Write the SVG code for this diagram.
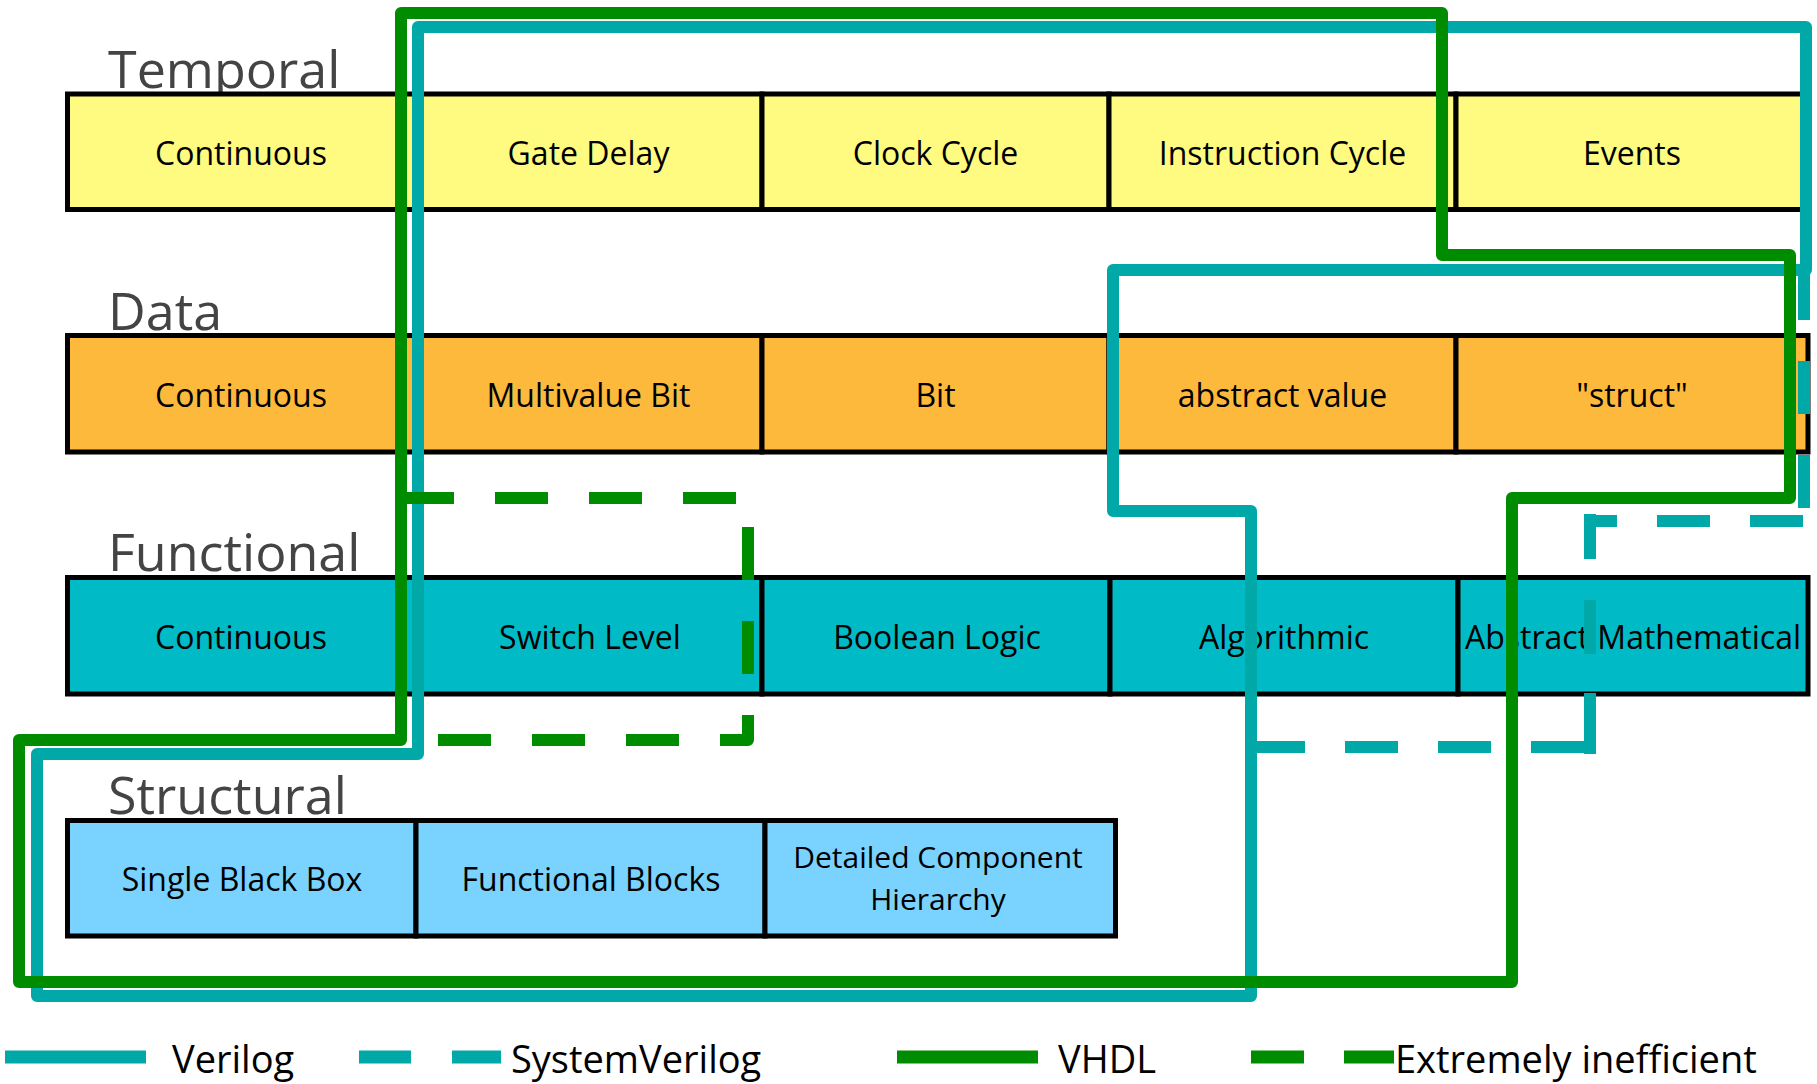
<svg xmlns="http://www.w3.org/2000/svg" width="1817" height="1084" viewBox="0 0 1817 1084">
<style>
.cell{stroke:#000;stroke-width:5}
.t{fill:#FFFA80}.d{fill:#FDB93C}.f{fill:#00BAC6}.s{fill:#7AD2FF}
.ct{font-family:"Open Sans","DejaVu Sans",sans-serif;font-size:32px;text-anchor:middle;fill:#000}
.ct2{font-size:30px}
.lab{font-family:"Open Sans","DejaVu Sans",sans-serif;font-size:52px;fill:#444}
.lg{font-family:"Open Sans","DejaVu Sans",sans-serif;font-size:38px;fill:#000}
.vl{stroke:#00A8A8;stroke-width:12;fill:none;stroke-linejoin:round}
.vh{stroke:#008C00;stroke-width:12;fill:none;stroke-linejoin:round}
.lgl{stroke-width:13;fill:none}
</style>
<rect width="1817" height="1084" fill="#fff"/>
<g id="labels">
<text class="lab" x="108" y="88">Temporal</text>
<text class="lab" x="108" y="330">Data</text>
<text class="lab" x="108" y="571">Functional</text>
<text class="lab" x="108" y="814">Structural</text>
</g>
<g id="temporal-continuous"><rect class="cell t" x="67.5" y="94" width="347.5" height="115.5"/><text class="ct" x="241" y="165">Continuous</text></g>
<g id="temporal-gate-delay"><rect class="cell t" x="415" y="94" width="347" height="115.5"/><text class="ct" x="588.5" y="165">Gate Delay</text></g>
<g id="temporal-clock-cycle"><rect class="cell t" x="762" y="94" width="347" height="115.5"/><text class="ct" x="935.5" y="165">Clock Cycle</text></g>
<g id="temporal-instruction-cycle"><rect class="cell t" x="1109" y="94" width="347" height="115.5"/><text class="ct" x="1282.5" y="165">Instruction Cycle</text></g>
<g id="temporal-events"><rect class="cell t" x="1456" y="94" width="352" height="115.5"/><text class="ct" x="1632" y="165">Events</text></g>

<g id="data-continuous"><rect class="cell d" x="67.5" y="335.5" width="347.5" height="116.5"/><text class="ct" x="241" y="407">Continuous</text></g>
<g id="data-multivalue-bit"><rect class="cell d" x="415" y="335.5" width="347" height="116.5"/><text class="ct" x="588.5" y="407">Multivalue Bit</text></g>
<g id="data-bit"><rect class="cell d" x="762" y="335.5" width="347" height="116.5"/><text class="ct" x="935.5" y="407">Bit</text></g>
<g id="data-abstract-value"><rect class="cell d" x="1109" y="335.5" width="347" height="116.5"/><text class="ct" x="1282.5" y="407">abstract value</text></g>
<g id="data-struct"><rect class="cell d" x="1456" y="335.5" width="352" height="116.5"/><text class="ct" x="1632" y="407">"struct"</text></g>

<g id="functional-continuous"><rect class="cell f" x="67.5" y="577.5" width="347.5" height="116.5"/><text class="ct" x="241" y="649">Continuous</text></g>
<g id="functional-switch-level"><rect class="cell f" x="415" y="577.5" width="347" height="116.5"/><text class="ct" x="590" y="649">Switch Level</text></g>
<g id="functional-boolean-logic"><rect class="cell f" x="762" y="577.5" width="348" height="116.5"/><text class="ct" x="937" y="649">Boolean Logic</text></g>
<g id="functional-algorithmic"><rect class="cell f" x="1110" y="577.5" width="348" height="116.5"/><text class="ct" x="1284" y="649">Algorithmic</text></g>
<g id="functional-abstract-mathematical"><rect class="cell f" x="1458" y="577.5" width="350" height="116.5"/><text class="ct" x="1633" y="649">Abstract Mathematical</text></g>

<g id="structural-single-black-box"><rect class="cell s" x="67.5" y="820.5" width="348.5" height="115.5"/><text class="ct" x="242" y="891">Single Black Box</text></g>
<g id="structural-functional-blocks"><rect class="cell s" x="416" y="820.5" width="349" height="115.5"/><text class="ct" x="591" y="891">Functional Blocks</text></g>
<g id="structural-detailed-component-hierarchy"><rect class="cell s" x="765" y="820.5" width="350.5" height="115.5"/><text class="ct ct2" x="938" y="868">Detailed Component</text><text class="ct ct2" x="938" y="910">Hierarchy</text></g>

<g id="connectors">
<path id="verilog" class="vl" d="M418,27 H1806 V270 H1113 V511 H1251 V996 H37 V754 H418 Z"/>
<g id="systemverilog" class="vl">
<path d="M1804,267 V508" stroke-dasharray="53 41"/>
<path d="M1803,521 H1584" stroke-dasharray="53 40"/>
<path d="M1590,514 V754" stroke-dasharray="45 41 54 39 61"/>
<path d="M1584,747 H1257" stroke-dasharray="53 40"/>
</g>
<path id="vhdl" class="vh" d="M401,13 H1442 V255 H1790 V498 H1512 V982 H19 V740 H401 Z"/>
<path id="extremely-inefficient" class="vh" d="M401,498 H748 V740 H401" stroke-dasharray="53 41"/>
</g>

<g id="legend">
<path class="lgl" stroke="#00A8A8" d="M5,1057 H146"/>
<text class="lg" x="172" y="1073">Verilog</text>
<path class="lgl" stroke="#00A8A8" d="M359,1057 H411 M452,1057 H501"/>
<text class="lg" x="511" y="1073">SystemVerilog</text>
<path class="lgl" stroke="#008C00" d="M897,1057 H1038"/>
<text class="lg" x="1058" y="1073">VHDL</text>
<path class="lgl" stroke="#008C00" d="M1251,1057 H1304 M1344,1057 H1394"/>
<text class="lg" x="1395" y="1073">Extremely inefficient</text>
</g>
</svg>
